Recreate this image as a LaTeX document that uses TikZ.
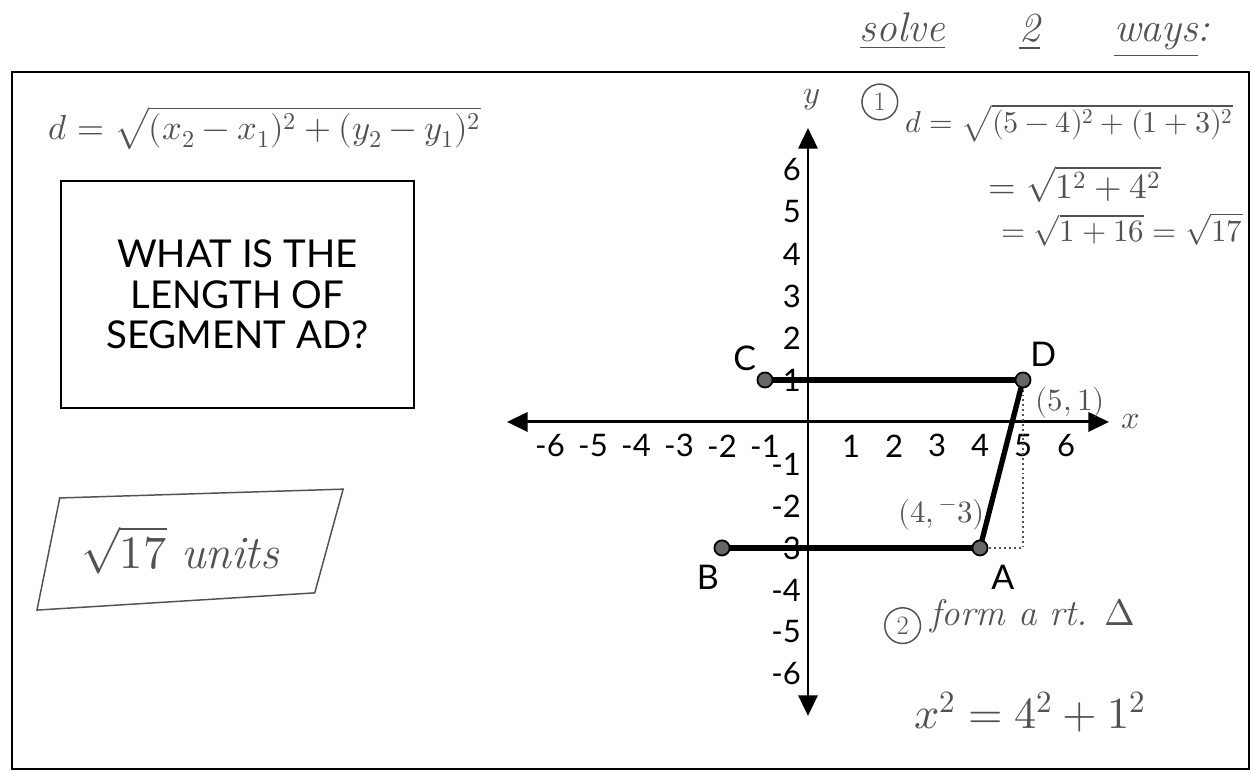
\documentclass[tikz,border=0pt]{standalone}
\usepackage{fontspec}
\usepackage{unicode-math}
\newfontfamily\gillfont{Lato}
\usetikzlibrary{arrows.meta}
\definecolor{pencil}{gray}{0.32}
\begin{document}
\begin{tikzpicture}[x=1.024cm,y=1cm,every node/.style={inner sep=0pt},
  frame/.style={draw,line width=1.6pt},
  qbox/.style={draw,line width=1.6pt,align=center,minimum width=8.4cm,minimum height=5.4cm,
    font=\gillfont\fontsize{26}{27.5}\selectfont},
  axis/.style={line width=2pt,{Triangle[length=14pt,width=13pt]}-{Triangle[length=14pt,width=13pt]}},
  seg/.style={line width=3.6pt},
  pt/.style={circle,draw,fill=black!60,line width=1.2pt,minimum size=0.36cm},
  tick/.style={font=\gillfont\fontsize{21}{24}\selectfont},
  lbl/.style={font=\gillfont\fontsize{23}{26}\selectfont},
  hand/.style={text=pencil,font=\fontsize{22}{26}\selectfont},
  handline/.style={draw=pencil,line width=1pt},
  numring/.style={hand,circle,draw=pencil,line width=1pt,minimum size=0.85cm,font=\fontsize{18}{20}\selectfont}]
\useasboundingbox (-18.79,-8.357) rectangle (10.395,10.048);
\draw[frame] (-18.51,-8.262) rectangle (10.256,8.333);
% question and formula
\node[hand,font=\fontsize{23.5}{28}\selectfont] (distf) at (-12.63,7.0) {$d=\sqrt{(x_2-x_1)^2+(y_2-y_1)^2}$};
\node[qbox] (question) at (-13.27,3.036) {WHAT IS THE\\LENGTH OF\\SEGMENT AD?};
\node[hand,font=\fontsize{31.5}{36}\selectfont] (answer) at (-14.6,-3.05) {$\sqrt{17}$ \textit{units}};
\draw[handline] (-17.40,-1.81) -- (-10.81,-1.60) -- (-11.47,-4.07) -- (-17.93,-4.48) -- cycle;
% axes
\coordinate (xl) at (-7,0);
\coordinate (xr) at (7,0);
\coordinate (yb) at (0,-7);
\coordinate (yt) at (0,7);
\draw[axis] (xl) -- (xr);
\draw[axis] (yb) -- (yt);
\node[hand] (xlab) at (7.5,0) {$x$};
\node[hand] (ylab) at (0.1,7.67) {$y$};
\foreach \i in {-6,...,-1,1,2,...,6} {
  \node[tick] (xt\i) at (\i,-0.57) {\i};
  \node[tick,anchor=east] (yt\i) at (-0.16,\i) {\i};
}
% segments
\coordinate (A) at (4,-3);
\coordinate (B) at (-2,-3);
\coordinate (C) at (-1,1);
\coordinate (D) at (5,1);
\coordinate (R) at (5,-3);
\draw[pencil,dotted,line width=1.3pt] (D) -- (R) -- (A);
\draw[seg] (C) -- (D);
\draw[seg] (B) -- (A);
\draw[seg] (A) -- (D);
\foreach \p in {A,B,C,D}
  \node[pt] (dot\p) at (\p) {};
\node[lbl] (labA) at (4.53,-3.71) {A};
\node[lbl] (labB) at (-2.33,-3.71) {B};
\node[lbl] (labC) at (-1.47,1.52) {C};
\node[lbl] (labD) at (5.47,1.6) {D};
\node[hand,font=\fontsize{21}{24}\selectfont] (Dxy) at (6.1,0.45) {$(5,1)$};
\node[hand,font=\fontsize{21}{24}\selectfont] (Axy) at (3.1,-2.2) {$(4,{}^-3)$};
% worked solution
\node[hand,font=\fontsize{28}{32}\selectfont\itshape] (solve) at (5.28,9.21)
  {\underline{solve}\hspace{1.8em}\underline{2}\hspace{1.8em}\underline{ways}:};
\node[numring] (one) at (1.67,7.62) {1};
\node[hand,anchor=west,font=\fontsize{20.5}{24}\selectfont] (step1) at (2.25,7.12) {$d=\sqrt{(5-4)^2+(1+3)^2}$};
\node[hand,font=\fontsize{24}{28}\selectfont] (step1b) at (6.2,5.66) {$=\sqrt{1^2+4^2}$};
\node[hand,font=\fontsize{21}{24}\selectfont] (step1c) at (7.30,4.58) {$=\sqrt{1+16}=\sqrt{17}$};
\node[numring] (two) at (2.2,-4.85) {2};
\node[hand,anchor=west,font=\fontsize{25}{28}\selectfont\itshape] (step2) at (2.85,-4.62) {form a rt. $\Delta$};
\node[hand,font=\fontsize{30}{34}\selectfont] (pyth) at (5.16,-6.9) {$x^2=4^2+1^2$};
\end{tikzpicture}
\end{document}
